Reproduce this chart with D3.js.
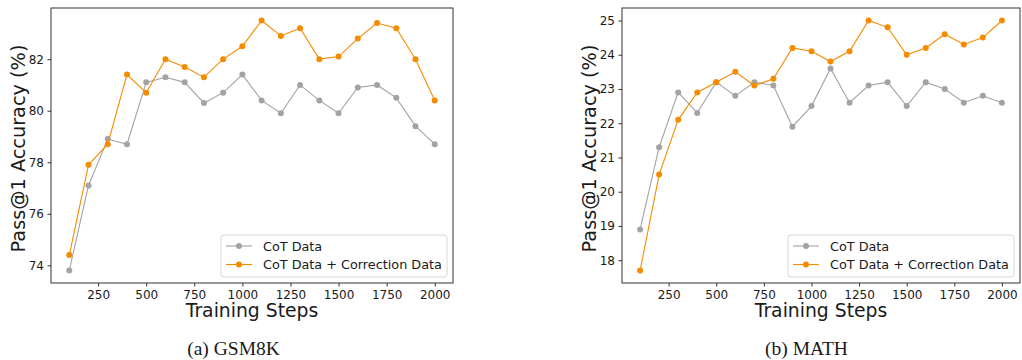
<!DOCTYPE html>
<html>
<head>
<meta charset="utf-8">
<script src="https://cdn.jsdelivr.net/npm/d3@7"></script>
<style>
  body { margin: 0; background: #fff; }
  svg { display: block; }
  text { font-family: "DejaVu Sans", sans-serif; fill: #1a1a1a; }
  .caption { font-family: "Liberation Serif", "Times New Roman", serif; }
</style>
</head>
<body>
<svg id="chart" width="1022" height="360"></svg>
<script>
// training steps (shared by both panels)
const steps = [100, 200, 300, 400, 500, 600, 700, 800, 900, 1000,
               1100, 1200, 1300, 1400, 1500, 1600, 1700, 1800, 1900, 2000];

// GSM8K
const gsmCot = [73.8, 77.1, 78.9, 78.7, 81.1, 81.3, 81.1, 80.3, 80.7, 81.4,
                80.4, 79.9, 81.0, 80.4, 79.9, 80.9, 81.0, 80.5, 79.4, 78.7];
const gsmCorr = [74.4, 77.9, 78.7, 81.4, 80.7, 82.0, 81.7, 81.3, 82.0, 82.5,
                 83.5, 82.9, 83.2, 82.0, 82.1, 82.8, 83.4, 83.2, 82.0, 80.4];

// MATH
const mathCot = [18.9, 21.3, 22.9, 22.3, 23.2, 22.8, 23.2, 23.1, 21.9, 22.5,
                 23.6, 22.6, 23.1, 23.2, 22.5, 23.2, 23.0, 22.6, 22.8, 22.6];
const mathCorr = [17.7, 20.5, 22.1, 22.9, 23.2, 23.5, 23.1, 23.3, 24.2, 24.1,
                  23.8, 24.1, 25.0, 24.8, 24.0, 24.2, 24.6, 24.3, 24.5, 25.0];

const xTicks = [250, 500, 750, 1000, 1250, 1500, 1750, 2000];
const gsmTicks = [74, 76, 78, 80, 82];
const mathTicks = [18, 19, 20, 21, 22, 23, 24, 25];

const seriesNames = ["CoT Data", "CoT Data + Correction Data"];
const colors = ["#a3a3a3", "#f58b00"];

const svg = d3.select("#chart");

function panel(box, cot, corr, yTicks, caption, capX) {
    const x = d3.scaleLinear().domain([5, 2095]).range([box.x0, box.x1]);
    // matplotlib style 5% padding on y
    const all = cot.concat(corr);
    const lo = d3.min(all), hi = d3.max(all), pad = (hi - lo) * 0.05;
    const y = d3.scaleLinear().domain([lo - pad, hi + pad]).range([box.y1, box.y0]);

    const g = svg.append("g");

    // frame
    g.append("rect")
        .attr("x", box.x0).attr("y", box.y0)
        .attr("width", box.x1 - box.x0).attr("height", box.y1 - box.y0)
        .attr("fill", "none").attr("stroke", "#333").attr("stroke-width", 1);

    const xa = g.append("g")
        .attr("transform", "translate(0," + box.y1 + ")")
        .call(d3.axisBottom(x).tickValues(xTicks).tickSize(3.5).tickPadding(3.5).tickFormat(d3.format("d")));
    const ya = g.append("g")
        .attr("transform", "translate(" + box.x0 + ",0)")
        .call(d3.axisLeft(y).tickValues(yTicks).tickSize(3.5).tickPadding(3.5).tickFormat(d3.format("d")));
    [xa, ya].forEach(a => {
        a.select(".domain").remove();
        a.selectAll(".tick line").attr("stroke", "#333");
        a.selectAll("text").attr("font-size", 12).attr("font-family", "DejaVu Sans").attr("fill", "#1a1a1a");
    });

    const line = d3.line().x((d, i) => x(steps[i])).y(d => y(d));

    [cot, corr].forEach((vals, k) => {
        g.append("path")
            .datum(vals)
            .attr("d", line)
            .attr("fill", "none")
            .attr("stroke", colors[k])
            .attr("stroke-width", 1.1);
        g.selectAll(null)
            .data(vals)
            .enter().append("circle")
            .attr("cx", (d, i) => x(steps[i]))
            .attr("cy", d => y(d))
            .attr("r", 3)
            .attr("fill", colors[k]);
    });

    // axis labels
    g.append("text")
        .attr("x", (box.x0 + box.x1) / 2).attr("y", box.y1 + 34)
        .attr("text-anchor", "middle").attr("font-size", 18.8)
        .text("Training Steps");
    g.append("text")
        .attr("transform", "translate(" + (box.x0 - 26) + "," + ((box.y0 + box.y1) / 2 + 3) + ") rotate(-90)")
        .attr("text-anchor", "middle").attr("font-size", 19.3)
        .text("Pass@1 Accuracy (%)");

    // legend
    const lw = 226, lh = 42;
    const lx = box.x1 - 6 - lw, ly = box.y1 - 6 - lh;
    const leg = g.append("g").attr("transform", "translate(" + lx + "," + ly + ")");
    leg.append("rect")
        .attr("width", lw).attr("height", lh).attr("rx", 3)
        .attr("fill", "#fff").attr("fill-opacity", 0.85)
        .attr("stroke", "#d6d6d6");
    seriesNames.forEach((name, k) => {
        const ry = 11 + k * 18.5;
        leg.append("line")
            .attr("x1", 5).attr("x2", 31).attr("y1", ry).attr("y2", ry)
            .attr("stroke", colors[k]).attr("stroke-width", 1.1);
        leg.append("circle").attr("cx", 18).attr("cy", ry).attr("r", 3).attr("fill", colors[k]);
        leg.append("text")
            .attr("x", 42).attr("y", ry + 4.5)
            .attr("font-size", 12.8)
            .text(name);
    });

    // caption
    g.append("text")
        .attr("class", "caption")
        .attr("x", capX).attr("y", 355)
        .attr("text-anchor", "middle").attr("font-size", 19.5)
        .attr("fill", "#111")
        .text(caption);
}

panel({x0: 51, x1: 453, y0: 8, y1: 283}, gsmCot, gsmCorr, gsmTicks, "(a) GSM8K", 233.5);
panel({x0: 622, x1: 1020, y0: 8, y1: 283}, mathCot, mathCorr, mathTicks, "(b) MATH", 806.5);
</script>
</body>
</html>
